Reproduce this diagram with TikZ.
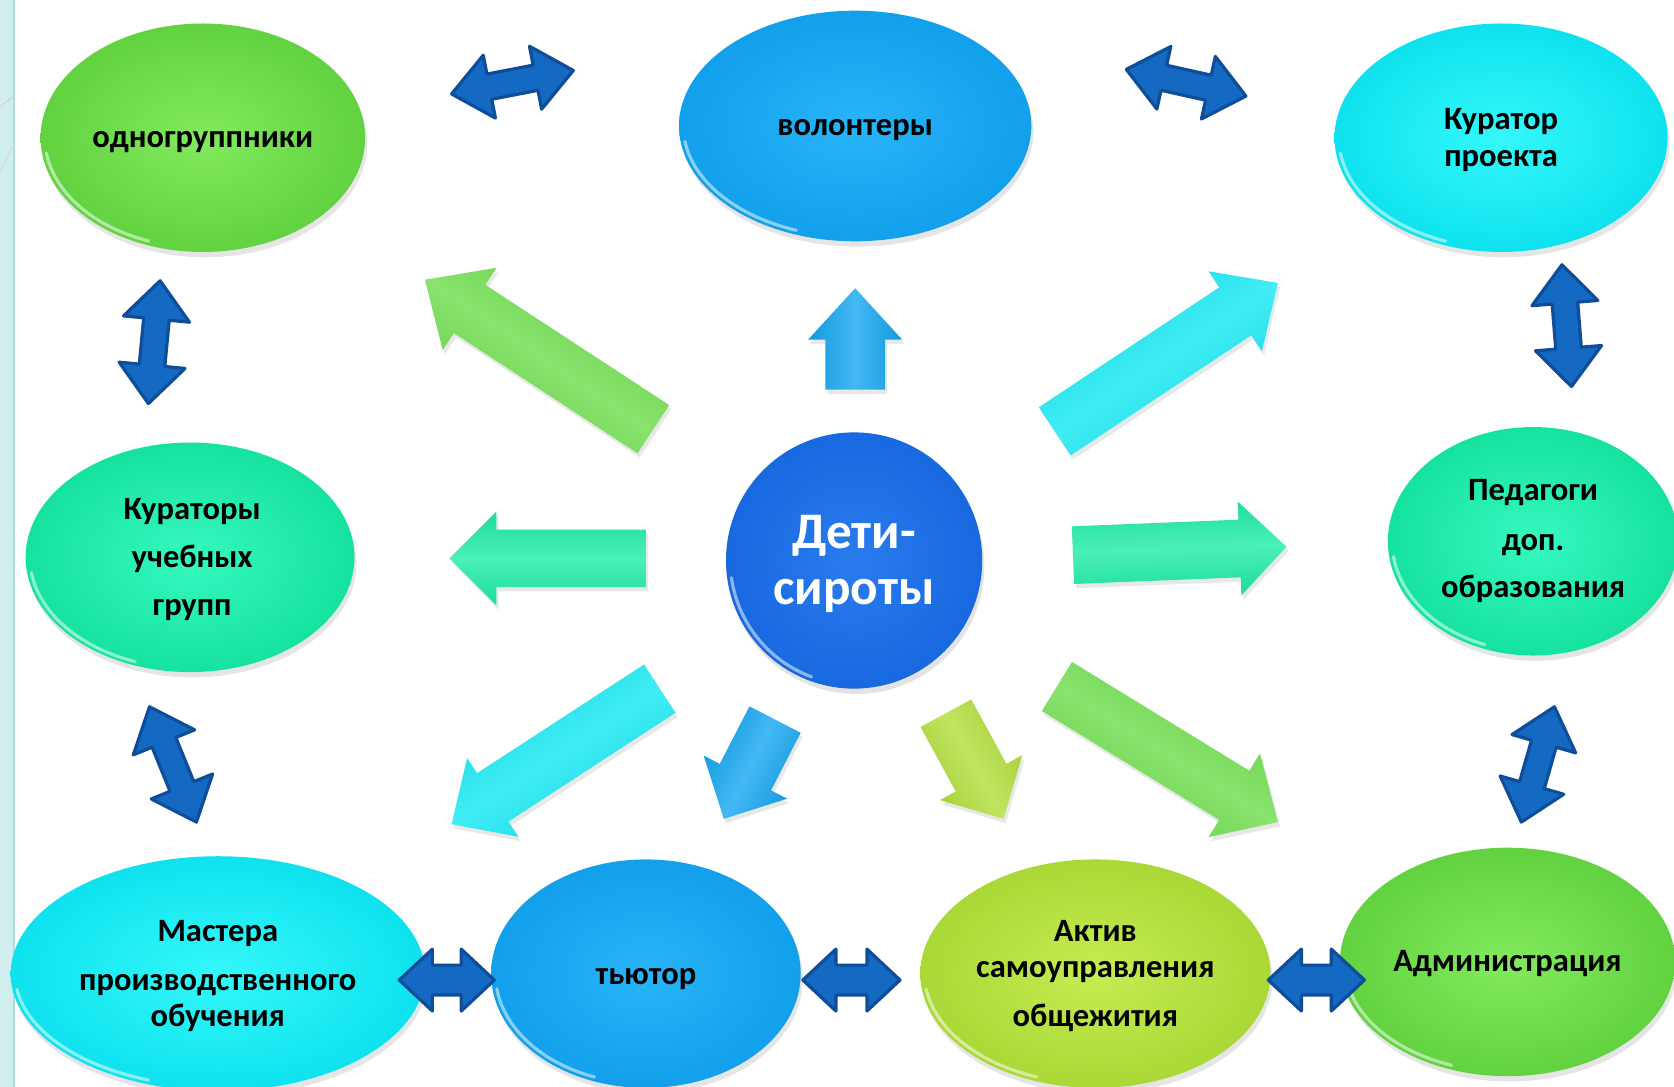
\documentclass[tikz,border=0pt]{standalone}
\usepackage{fontspec}
\setmainfont{Carlito}
\usetikzlibrary{shapes.geometric,calc,shadows}
\definecolor{grnI}{HTML}{82EA5E}\definecolor{grnO}{HTML}{62D240}
\definecolor{bluI}{HTML}{28B4F7}\definecolor{bluO}{HTML}{12A0EC}
\definecolor{cyaI}{HTML}{34F8FA}\definecolor{cyaO}{HTML}{0EE2EE}
\definecolor{mntI}{HTML}{36F8C0}\definecolor{mntO}{HTML}{16E2A0}
\definecolor{yelI}{HTML}{C6EC52}\definecolor{yelO}{HTML}{AAD836}
\definecolor{cenI}{HTML}{2A7CEE}\definecolor{cenO}{HTML}{1868E0}
\definecolor{aGrn}{HTML}{6CDC4A}\definecolor{aBlu}{HTML}{14A6F0}
\definecolor{aCya}{HTML}{12E8F2}\definecolor{aMnt}{HTML}{1EECA8}
\definecolor{aYel}{HTML}{B2DE3A}
\definecolor{dblF}{HTML}{1469C2}\definecolor{dblD}{HTML}{0E4D9A}
\definecolor{stripe}{HTML}{D0EEEE}\definecolor{stripeL}{HTML}{B0DCDC}
\newcommand\blockarr[7]{%
  \coordinate (#1h) at ($(#3)!#6!(#2)$);
  \path[#7] ($(#2)!#4!90:(#3)$) -- ($(#1h)!#4!90:(#3)$) -- ($(#1h)!#5!90:(#3)$) -- (#3)
    -- ($(#1h)!#5!-90:(#3)$) -- ($(#1h)!#4!-90:(#3)$) -- ($(#2)!#4!-90:(#3)$) -- cycle;
}
\newcommand\dblarr[6]{%
  \coordinate (#1a) at ($(#2)!#6!(#3)$);
  \coordinate (#1b) at ($(#3)!#6!(#2)$);
  \path[dbl] (#2) -- ($(#1a)!#5!90:(#3)$) -- ($(#1a)!#4!90:(#3)$) -- ($(#1b)!#4!-90:(#2)$)
    -- ($(#1b)!#5!-90:(#2)$) -- (#3) -- ($(#1b)!#5!90:(#2)$) -- ($(#1b)!#4!90:(#2)$)
    -- ($(#1a)!#4!-90:(#3)$) -- ($(#1a)!#5!-90:(#3)$) -- cycle;
}
% glossy rim on the lower left of a bubble: node, x radius, y radius
\newcommand\gloss[3]{%
  \draw[gl] ($(#1.center)+(188:#2 and #3)$) arc[start angle=188, end angle=250, x radius=#2, y radius=#3];
}
\tikzset{
  bub/.style={ellipse, inner sep=0pt,
    drop shadow={opacity=0.2, shadow xshift=2pt, shadow yshift=-5pt}},
  bubG/.style={bub, inner color=grnI, outer color=grnO},
  bubB/.style={bub, inner color=bluI, outer color=bluO},
  bubC/.style={bub, inner color=cyaI, outer color=cyaO},
  bubM/.style={bub, inner color=mntI, outer color=mntO},
  bubY/.style={bub, inner color=yelI, outer color=yelO},
  hub/.style={circle, inner sep=0pt, inner color=cenI, outer color=cenO,
    drop shadow={opacity=0.22, shadow xshift=2pt, shadow yshift=-5pt}},
  gl/.style={white, opacity=0.5, line width=3pt, line cap=round},
  lbl/.style={inner sep=0pt, align=center, font=\bfseries\fontsize{30.5}{34}\selectfont},
  hublbl/.style={inner sep=0pt, align=center, text=white, font=\bfseries\fontsize{48}{53}\selectfont},
  blk/.style 2 args={top color=#1!93!black, bottom color=#1!93!black,
    middle color=#1!80!white, shading angle=#2,
    drop shadow={opacity=0.18, shadow xshift=2pt, shadow yshift=-4pt}},
  dbl/.style={fill=dblF, draw=dblD, line width=3pt, line join=round},
}
\begin{document}
\begin{tikzpicture}[x=1pt,y=-1pt]
\useasboundingbox (0,0) rectangle (1568,1018);
\fill[white] (0,0) rectangle (1568,1018);
\fill[stripe] (0,0) rectangle (13,1018);
\draw[stripeL, line width=1.5pt] (13,0) -- (13,1018);
\draw[gray!35, line width=1pt] (0,100) .. controls (5,96) and (10,92) .. (13,90);
\draw[gray!30, line width=1pt] (0,160) .. controls (5,150) and (10,140) .. (13,135);

% bubbles
\node[bubG, minimum width=304pt, minimum height=214pt] (odno) at (190,129) {};
\node[bubB, minimum width=330pt, minimum height=216pt] (volo) at (801,118) {};
\node[bubC, minimum width=312pt, minimum height=214pt] (kurp) at (1406,129) {};
\node[bubM, minimum width=308pt, minimum height=215pt] (kurg) at (178,522) {};
\node[bubM, minimum width=272pt, minimum height=214pt] (ped) at (1436,507) {};
\node[bubC, minimum width=388pt, minimum height=220pt] (mast) at (204,912) {};
\node[bubB, minimum width=290pt, minimum height=214pt] (tut) at (605,912) {};
\node[bubY, minimum width=328pt, minimum height=214pt] (akt) at (1026,912) {};
\node[bubG, minimum width=314pt, minimum height=214pt] (adm) at (1412,901) {};
\node[hub, minimum size=240pt] (deti) at (800,525) {};

\gloss{odno}{148pt}{103pt}
\gloss{volo}{161pt}{104pt}
\gloss{kurp}{152pt}{103pt}
\gloss{kurg}{150pt}{104pt}
\gloss{ped}{132pt}{103pt}
\gloss{mast}{190pt}{106pt}
\gloss{tut}{141pt}{103pt}
\gloss{akt}{160pt}{103pt}
\gloss{adm}{153pt}{103pt}
\gloss{deti}{116pt}{116pt}

% labels
\node[lbl] (odno-t) at (190,133) {одногруппники};
\node[lbl] (volo-t) at (801,122) {волонтеры};
\node[lbl] (kurp-t) at (1406,131) {Куратор\\проекта};
\node[lbl] (kurg-t) at (180,524) {Кураторы\\[11pt]учебных\\[11pt]групп};
\node[lbl] (ped-t) at (1436,507) {Педагоги\\[13pt]доп.\\[10pt]образования};
\node[lbl] (mast-t) at (204,914) {Мастера\\[12pt]производственного\\обучения};
\node[lbl] (tut-t) at (605,917) {тьютор};
\node[lbl] (akt-t) at (1026,914) {Актив\\самоуправления\\[12pt]общежития};
\node[lbl] (adm-t) at (1412,903) {Администрация};
\node[hublbl] (deti-t) at (800,528) {Дети-\\сироты};

% block arrows from the centre
\coordinate (uT) at (801,365);  \coordinate (uH) at (801,270);
\coordinate (ulT) at (612,402); \coordinate (ulH) at (398,262);
\coordinate (urT) at (988,404); \coordinate (urH) at (1197,265);
\coordinate (lT) at (605,523);  \coordinate (lH) at (421,523);
\coordinate (rT) at (1005,520); \coordinate (rH) at (1205,512);
\coordinate (llT) at (618,645); \coordinate (llH) at (423,772);
\coordinate (sbT) at (726,674); \coordinate (sbH) at (678,767);
\coordinate (syT) at (886,668); \coordinate (syH) at (940,767);
\coordinate (lrT) at (990,643); \coordinate (lrH) at (1197,770);
\blockarr{au}{uT}{uH}{28pt}{44pt}{48pt}{blk={aBlu}{90}}
\blockarr{aul}{ulT}{ulH}{27pt}{46pt}{50pt}{blk={aGrn}{146}}
\blockarr{aur}{urT}{urH}{27pt}{45pt}{48pt}{blk={aCya}{34}}
\blockarr{al}{lT}{lH}{27pt}{44pt}{44pt}{blk={aMnt}{0}}
\blockarr{ar}{rT}{rH}{27pt}{44pt}{44pt}{blk={aMnt}{2}}
\blockarr{all}{llT}{llH}{27pt}{44pt}{46pt}{blk={aCya}{213}}
\blockarr{asb}{sbT}{sbH}{27pt}{44pt}{44pt}{blk={aBlu}{243}}
\blockarr{asy}{syT}{syH}{27pt}{44pt}{44pt}{blk={aYel}{299}}
\blockarr{alr}{lrT}{lrH}{27pt}{46pt}{48pt}{blk={aGrn}{328}}

% double arrows between neighbours
\coordinate (d1a) at (423,88);   \coordinate (d1b) at (537,66);
\coordinate (d2a) at (1055,65);  \coordinate (d2b) at (1167,90);
\coordinate (d3a) at (150,263);  \coordinate (d3b) at (139,378);
\coordinate (d4a) at (1463,248); \coordinate (d4b) at (1472,362);
\coordinate (d5a) at (140,662);  \coordinate (d5b) at (184,770);
\coordinate (d6a) at (1456,662); \coordinate (d6b) at (1425,770);
\coordinate (d7a) at (374,918);  \coordinate (d7b) at (463,918);
\coordinate (d8a) at (752,918);  \coordinate (d8b) at (843,918);
\coordinate (d9a) at (1188,918); \coordinate (d9b) at (1278,918);
\dblarr{e1}{d1a}{d1b}{12pt}{30pt}{36pt}
\dblarr{e2}{d2a}{d2b}{12pt}{30pt}{36pt}
\dblarr{e3}{d3a}{d3b}{12pt}{31pt}{36pt}
\dblarr{e4}{d4a}{d4b}{12pt}{31pt}{36pt}
\dblarr{e5}{d5a}{d5b}{12pt}{31pt}{36pt}
\dblarr{e6}{d6a}{d6b}{12pt}{31pt}{36pt}
\dblarr{e7}{d7a}{d7b}{14pt}{29pt}{31pt}
\dblarr{e8}{d8a}{d8b}{14pt}{29pt}{31pt}
\dblarr{e9}{d9a}{d9b}{14pt}{29pt}{31pt}
\end{tikzpicture}
\end{document}
